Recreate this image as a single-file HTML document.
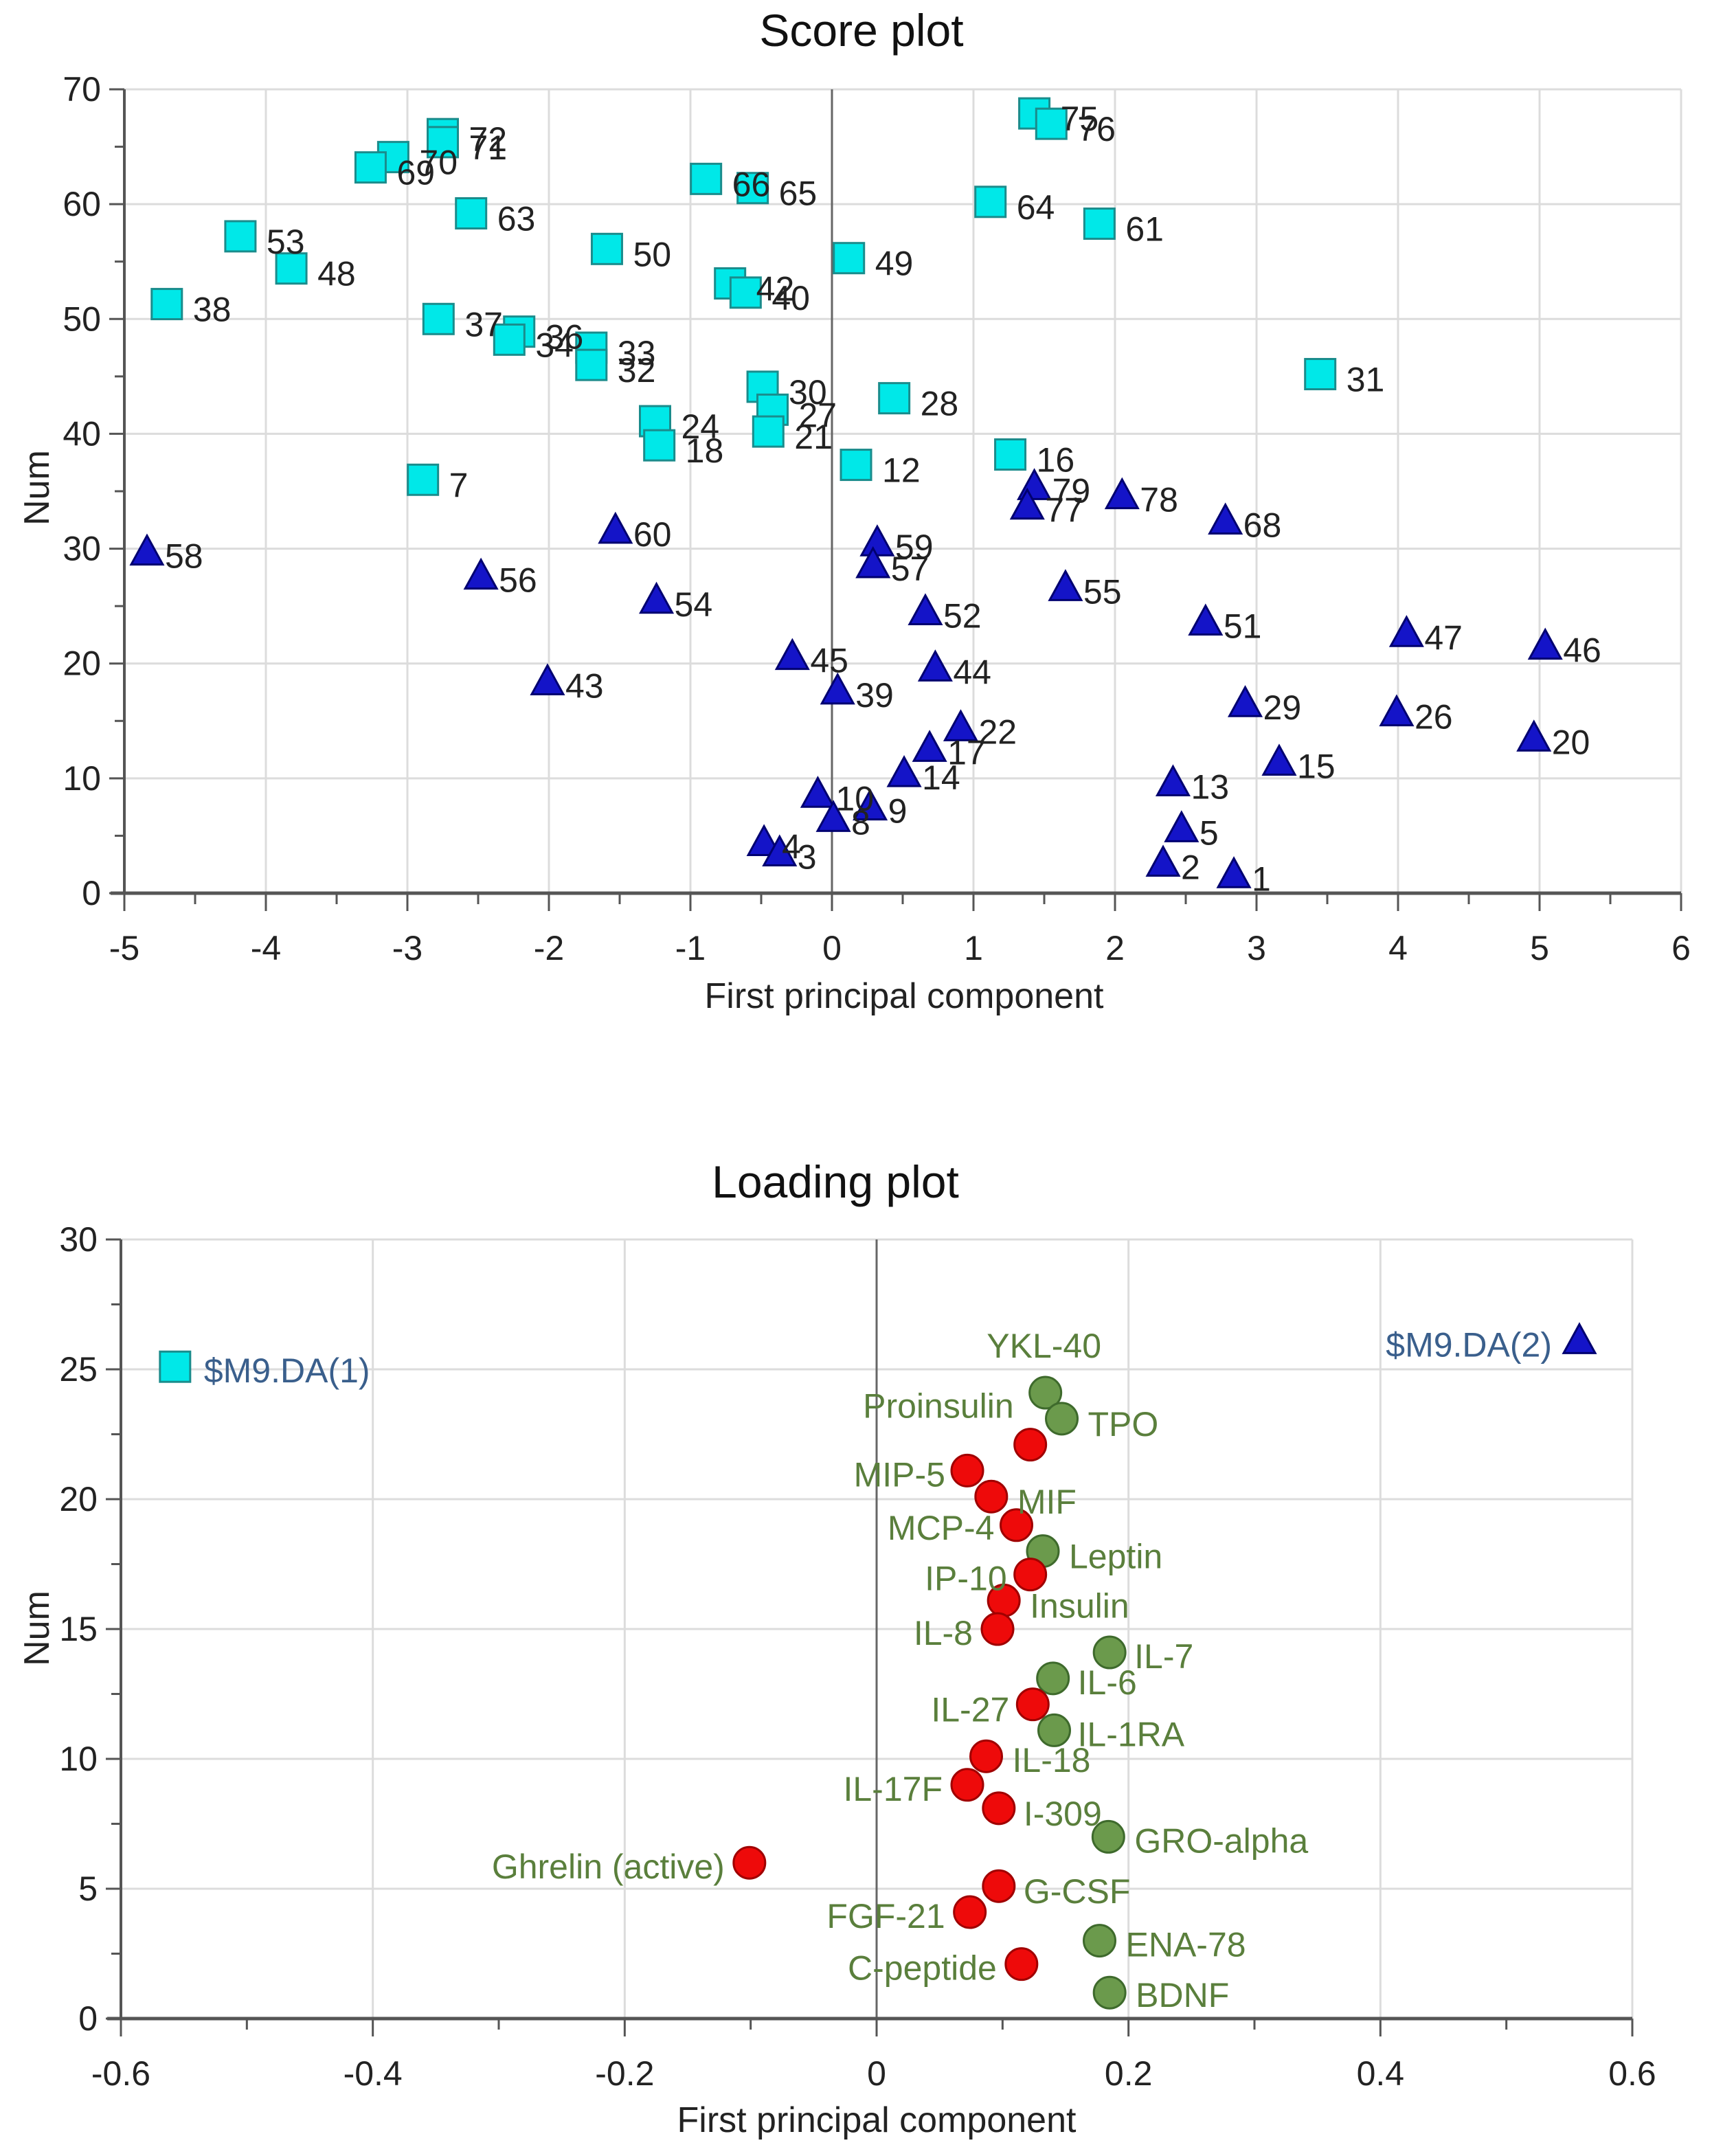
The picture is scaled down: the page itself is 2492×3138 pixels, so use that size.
<!DOCTYPE html>
<html><head><meta charset="utf-8"><style>
html,body{margin:0;padding:0;background:#fff;}
svg{display:block;font-family:"Liberation Sans",sans-serif;}
</style></head><body>
<svg id="chart" width="2492" height="3138" viewBox="0 0 2492 3138" xmlns="http://www.w3.org/2000/svg">
<g id="score"></g>
<g id="loading"></g>
</svg>
<script>
// ---- Score plot data ----
const sqLabels = ["72","71","70","69","66","65","63","53","48","38","37","36","34","33","32","50","42","40","49","30","27","21","24","18","28","12","7","16","31","64","61","75","76"];
const sqX = [-2.75,-2.75,-3.1,-3.26,-0.89,-0.56,-2.55,-4.18,-3.82,-4.7,-2.78,-2.21,-2.28,-1.7,-1.7,-1.59,-0.72,-0.61,0.12,-0.49,-0.42,-0.45,-1.25,-1.22,0.44,0.17,-2.89,1.26,3.45,1.12,1.89,1.43,1.55];
const sqY = [66.1,65.4,64.1,63.2,62.2,61.4,59.2,57.2,54.4,51.3,50,48.9,48.2,47.5,46,56.1,53.1,52.3,55.3,44.1,42.1,40.2,41.1,39,43.1,37.3,36,38.2,45.2,60.2,58.3,67.9,67];
const triLabels = ["58","56","60","54","43","45","39","59","57","52","44","22","17","14","10","9","8","4","3","79","77","78","68","55","51","47","46","29","26","20","15","13","5","2","1"];
const triX = [-4.84,-2.48,-1.53,-1.24,-2.01,-0.28,0.04,0.32,0.29,0.66,0.73,0.91,0.69,0.51,-0.1,0.27,0.01,-0.48,-0.37,1.43,1.38,2.05,2.78,1.65,2.64,4.06,5.04,2.92,3.99,4.96,3.16,2.41,2.47,2.34,2.84];
const triY = [29.7,27.6,31.6,25.5,18.4,20.6,17.6,30.5,28.6,24.5,19.6,14.4,12.6,10.4,8.6,7.5,6.5,4.4,3.5,35.4,33.7,34.6,32.4,26.6,23.6,22.6,21.5,16.5,15.7,13.5,11.4,9.6,5.6,2.6,1.6];
const scoreXTicks = ["-5","-4","-3","-2","-1","0","1","2","3","4","5","6"];
const scoreYTicks = ["0","10","20","30","40","50","60","70"];

// ---- Loading plot data ----
const greenLabels = ["YKL-40","TPO","Leptin","IL-7","IL-6","IL-1RA","GRO-alpha","ENA-78","BDNF"];
const greenX = [0.134,0.147,0.132,0.185,0.14,0.141,0.184,0.177,0.185];
const greenY = [24.1,23.1,18,14.1,13.1,11.1,7,3,1];
const redLabels = ["Proinsulin","MIP-5","MIF","MCP-4","IP-10","Insulin","IL-8","IL-27","IL-18","IL-17F","I-309","Ghrelin (active)","G-CSF","FGF-21","C-peptide"];
const redX = [0.122,0.072,0.091,0.111,0.122,0.101,0.096,0.124,0.087,0.072,0.097,-0.101,0.097,0.074,0.115];
const redY = [22.1,21.1,20.1,19,17.1,16.1,15,12.1,10.1,9,8.1,6,5.1,4.1,2.1];
const dvLabels = ["$M9.DA(1)","$M9.DA(2)"];
const dvX = [-0.557,0.558];
const dvY = [25.1,26.1];
const loadXTicks = ["-0.6","-0.4","-0.2","0","0.2","0.4","0.6"];
const loadYTicks = ["0","5","10","15","20","25","30"];

// label layout (styling only, display offsets)
const greenLay = [[-2,-68,"middle"],[38,8,"start"],[38,8,"start"],[36,6,"start"],[36,6,"start"],[34,6,"start"],[38,6,"start"],[38,6,"start"],[38,4,"start"]];
const redLay = [[-24,-56,"end"],[-32,6,"end"],[38,8,"start"],[-32,4,"end"],[-34,6,"end"],[38,8,"start"],[-36,6,"end"],[-34,8,"end"],[38,6,"start"],[-36,6,"end"],[36,8,"start"],[-36,6,"end"],[36,8,"start"],[-36,6,"end"],[-36,6,"end"]];
const dvLay = [[42,6,"start"],[-40,6,"end"]];

const NS="http://www.w3.org/2000/svg";
function mk(parent,tag,attrs,name,txt){
  const e=document.createElementNS(NS,tag);
  for(const k in attrs)e.setAttribute(k,attrs[k]);
  
  
  if(txt!==undefined)e.textContent=txt;
  parent.appendChild(e);return e;
}
function axes(g,o){
  const sx=v=>o.x0+(v-o.xmin)/(o.xmax-o.xmin)*(o.x1-o.x0);
  const sy=v=>o.y0-(v-o.ymin)/(o.ymax-o.ymin)*(o.y0-o.y1);
  mk(g,'text',{x:o.tx,y:o.ty,'font-size':66,'text-anchor':'middle','dominant-baseline':'central',fill:'#111'},'chart-title',o.title);
  o.xt.forEach(t=>{const x=sx(+t);mk(g,'line',{x1:x,x2:x,y1:o.y1,y2:o.y0,stroke:'#dcdcdc','stroke-width':3},'x-gridline');});
  o.yt.forEach(t=>{const y=sy(+t);mk(g,'line',{x1:o.x0,x2:o.x1,y1:y,y2:y,stroke:'#dcdcdc','stroke-width':3},'y-gridline');});
  mk(g,'line',{x1:o.x1,x2:o.x1,y1:o.y1,y2:o.y0,stroke:'#dcdcdc','stroke-width':3},'plot-frame-right');
  mk(g,'line',{x1:o.x0,x2:o.x1,y1:o.y1,y2:o.y1,stroke:'#dcdcdc','stroke-width':3},'plot-frame-top');
  mk(g,'line',{x1:sx(0),x2:sx(0),y1:o.y1,y2:o.y0,stroke:'#666','stroke-width':3},'zero-line');
  mk(g,'line',{x1:o.x0,x2:o.x0,y1:o.y1,y2:o.y0,stroke:'#555','stroke-width':4},'y-axis');
  mk(g,'line',{x1:o.x0-20,x2:o.x1,y1:o.y0,y2:o.y0,stroke:'#555','stroke-width':5},'x-axis');
  o.xt.forEach((t,i)=>{const x=sx(+t);
    mk(g,'line',{x1:x,x2:x,y1:o.y0,y2:o.y0+26,stroke:'#555','stroke-width':3},'x-tick');
    if(i<o.xt.length-1){const xm=sx((+t+ +o.xt[i+1])/2);mk(g,'line',{x1:xm,x2:xm,y1:o.y0,y2:o.y0+16,stroke:'#555','stroke-width':3},'x-minor-tick');}
    mk(g,'text',{x:x,y:o.y0+80,'font-size':50,'text-anchor':'middle','dominant-baseline':'central',fill:'#222'},'x-tick-label',t);});
  o.yt.forEach((t,i)=>{const y=sy(+t);
    mk(g,'line',{x1:o.x0-22,x2:o.x0,y1:y,y2:y,stroke:'#555','stroke-width':3},'y-tick');
    if(i<o.yt.length-1){const ym=sy((+t+ +o.yt[i+1])/2);mk(g,'line',{x1:o.x0-14,x2:o.x0,y1:ym,y2:ym,stroke:'#555','stroke-width':3},'y-minor-tick');}
    mk(g,'text',{x:o.x0-34,y:y,'font-size':50,'text-anchor':'end','dominant-baseline':'central',fill:'#222'},'y-tick-label',t);});
  mk(g,'text',{x:o.xtx,y:o.xty,'font-size':52,'text-anchor':'middle','dominant-baseline':'central',fill:'#222'},'x-axis-title','First principal component');
  mk(g,'text',{x:0,y:0,'font-size':52,'text-anchor':'middle','dominant-baseline':'central',fill:'#222',transform:`translate(${o.ytx},${o.yty}) rotate(-90)`},'y-axis-title','Num');
  return [sx,sy];
}
function square(g,x,y){mk(g,'rect',{x:x-22,y:y-22,width:44,height:44,fill:'#00e8e8',stroke:'#1a8c8c','stroke-width':3},'square-marker');}
function tri(g,x,y){mk(g,'polygon',{points:`${x},${y-24} ${x+23},${y+18} ${x-23},${y+18}`,fill:'#1414c8',stroke:'#000070','stroke-width':3},'triangle-marker');}
function circ(g,x,y,f,s){mk(g,'circle',{cx:x,cy:y,r:23,fill:f,stroke:s,'stroke-width':3},'circle-marker');}

const gs=document.getElementById('score');
const [sx1,sy1]=axes(gs,{x0:181,x1:2447,y0:1300,y1:130,xmin:-5,xmax:6,ymin:0,ymax:70,xt:scoreXTicks,yt:scoreYTicks,title:'Score plot',tx:1254,ty:44,xtx:1316,xty:1450,ytx:54,yty:710});
sqX.forEach((v,i)=>{const x=sx1(v),y=sy1(sqY[i]);square(gs,x,y);});
triX.forEach((v,i)=>{const x=sx1(v),y=sy1(triY[i]);tri(gs,x,y);});
sqX.forEach((v,i)=>{const x=sx1(v),y=sy1(sqY[i]);mk(gs,'text',{x:x+38,y:y+8,'font-size':50,'dominant-baseline':'central',fill:'#222'},'point-label',sqLabels[i]);});
triX.forEach((v,i)=>{const x=sx1(v),y=sy1(triY[i]);mk(gs,'text',{x:x+26,y:y+6,'font-size':50,'dominant-baseline':'central',fill:'#222'},'point-label',triLabels[i]);});

const gl=document.getElementById('loading');
const [sx2,sy2]=axes(gl,{x0:176,x1:2376,y0:2938,y1:1804,xmin:-0.6,xmax:0.6,ymin:0,ymax:30,xt:loadXTicks,yt:loadYTicks,title:'Loading plot',tx:1216,ty:1720,xtx:1276,xty:3086,ytx:54,yty:2370});
square(gl,sx2(dvX[0]),sy2(dvY[0]));
tri(gl,sx2(dvX[1]),sy2(dvY[1]));
greenX.forEach((v,i)=>circ(gl,sx2(v),sy2(greenY[i]),'#6b9a4c','#3e6a2c'));
redX.forEach((v,i)=>circ(gl,sx2(v),sy2(redY[i]),'#ee0a0a','#a00000'));
function lab(xs,ys,ls,lay,col){xs.forEach((v,i)=>{const x=sx2(v),y=sy2(ys[i]);
  mk(gl,'text',{x:x+lay[i][0],y:y+lay[i][1],'font-size':50,'text-anchor':lay[i][2],'dominant-baseline':'central',fill:col},'variable-label',ls[i]);});}
lab(greenX,greenY,greenLabels,greenLay,'#5a7f3c');
lab(redX,redY,redLabels,redLay,'#5a7f3c');
lab(dvX,dvY,dvLabels,dvLay,'#3a5f8c');
</script>
</body></html>
